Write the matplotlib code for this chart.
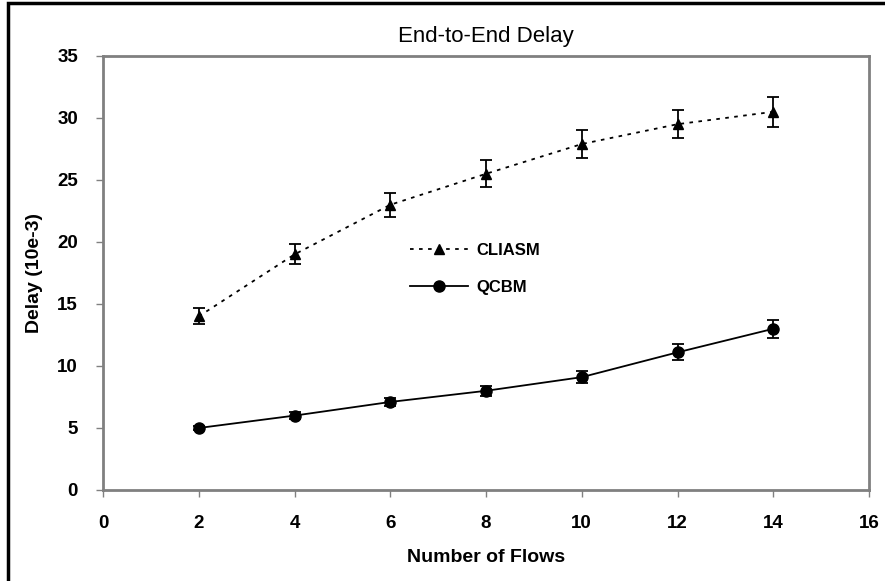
import matplotlib
matplotlib.use("Agg")
import matplotlib.pyplot as plt
from matplotlib.patches import Rectangle
from matplotlib.lines import Line2D

flows = [2, 4, 6, 8, 10, 12, 14]
cliasm = [14.0, 19.0, 23.0, 25.5, 27.9, 29.5, 30.5]
cliasm_err = [0.65, 0.8, 0.95, 1.1, 1.1, 1.15, 1.2]
qcbm = [5.0, 6.0, 7.1, 8.0, 9.1, 11.1, 13.0]
qcbm_err = [0.2, 0.3, 0.3, 0.4, 0.5, 0.65, 0.75]

plt.rcParams['font.family'] = ['Liberation Sans', 'DejaVu Sans']

fig = plt.figure(figsize=(8.85, 5.81), dpi=100)
ax = fig.add_axes([103/885, 1 - 490/581, (869 - 103)/885, (490 - 56)/581])

# outer black border (right/bottom run off the picture)
fig.patches.append(Rectangle((8/885, -0.05), 1.1, 1 - 3/581 + 0.05,
                             transform=fig.transFigure, fill=False,
                             edgecolor='black', linewidth=2.5))

dotted = (0, (2, 3))
ax.errorbar(flows, cliasm, yerr=cliasm_err, color='black', linestyle=dotted,
            linewidth=1.3, marker='^', markersize=7, capsize=4.5, capthick=1.3,
            elinewidth=1.3)
ax.errorbar(flows, qcbm, yerr=qcbm_err, color='black', linestyle='-',
            linewidth=1.3, marker='o', markersize=8, capsize=4.5, capthick=1.3,
            elinewidth=1.3)

ax.set_xlim(0, 16)
ax.set_ylim(0, 35)
ax.set_xticks(range(0, 17, 2))
ax.set_yticks(range(0, 36, 5))
for s in ax.spines.values():
    s.set_color('#808080')
    s.set_linewidth(2)
ax.tick_params(direction='out', length=5, color='#808080', width=1,
               labelsize=13.5, pad=13)
for t in ax.get_xticklabels() + ax.get_yticklabels():
    t.set_fontweight('bold')

ax.set_xlabel('Number of Flows', fontsize=14, fontweight='bold', labelpad=12)
ax.set_ylabel('Delay (10e-3)', fontsize=14, fontweight='bold', labelpad=10)
ax.set_title('End-to-End Delay', fontsize=16, pad=10)

handles = [Line2D([], [], color='black', linestyle=dotted, linewidth=1.3,
                  marker='^', markersize=7),
           Line2D([], [], color='black', linestyle='-', linewidth=1.3,
                  marker='o', markersize=8)]
ax.legend(handles, ['CLIASM', 'QCBM'], loc='upper left',
          bbox_to_anchor=(395/885, 1 - 228/581), bbox_transform=fig.transFigure,
          frameon=False, prop={'weight': 'bold', 'size': 12}, handlelength=3.5,
          labelspacing=1.3, handletextpad=0.5)

fig.savefig('out.png', dpi=100)
